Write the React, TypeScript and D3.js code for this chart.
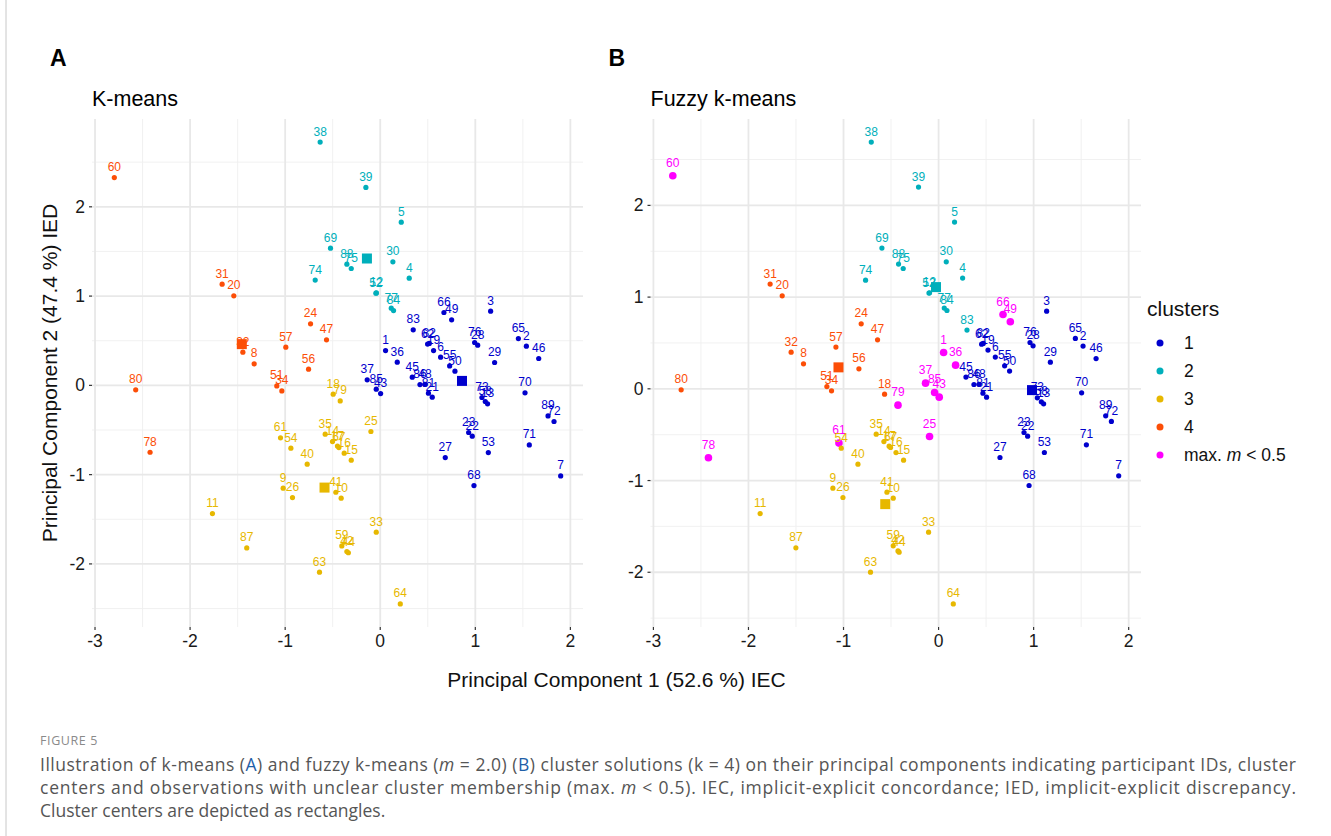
import React from "react";
import * as d3 from "d3";

// [participant id, PC1, PC2, cluster]  cluster 5 = max. m < 0.5
const kmeansPoints: [number, number, number, number][] = [
  [60, -2.797, 2.328, 4], [31, -1.663, 1.134, 4], [20, -1.54, 1.003, 4], [24, -0.733, 0.689, 4],
  [47, -0.565, 0.51, 4], [57, -0.993, 0.428, 4], [32, -1.445, 0.372, 4], [8, -1.326, 0.241, 4],
  [56, -0.754, 0.181, 4], [80, -2.572, -0.05, 4], [78, -2.421, -0.749, 4], [51, -1.088, -0.006, 4],
  [34, -1.035, -0.062, 4],
  [38, -0.632, 2.725, 2], [69, -0.523, 1.537, 2], [74, -0.684, 1.179, 2], [39, -0.151, 2.217, 2],
  [5, 0.221, 1.828, 2], [88, -0.351, 1.358, 2], [75, -0.305, 1.309, 2], [30, 0.133, 1.384, 2],
  [4, 0.305, 1.201, 2], [52, -0.046, 1.033, 2], [12, -0.04, 1.036, 2], [77, 0.116, 0.865, 2],
  [84, 0.14, 0.838, 2],
  [66, 0.67, 0.816, 1], [49, 0.751, 0.734, 1], [3, 1.161, 0.831, 1], [83, 0.347, 0.622, 1],
  [62, 0.498, 0.462, 1], [82, 0.516, 0.47, 1], [19, 0.561, 0.39, 1], [6, 0.635, 0.316, 1],
  [55, 0.73, 0.218, 1], [50, 0.786, 0.159, 1], [1, 0.056, 0.39, 1], [36, 0.179, 0.26, 1],
  [76, 0.993, 0.48, 1], [28, 1.025, 0.45, 1], [65, 1.453, 0.524, 1], [2, 1.537, 0.439, 1],
  [29, 1.203, 0.256, 1], [46, 1.667, 0.301, 1], [37, -0.137, 0.062, 1], [85, -0.042, -0.043, 1],
  [43, 0.004, -0.092, 1], [45, 0.337, 0.092, 1], [86, 0.418, 0.009, 1], [48, 0.47, 0.012, 1],
  [81, 0.507, -0.087, 1], [21, 0.547, -0.132, 1], [73, 1.07, -0.136, 1], [58, 1.105, -0.181, 1],
  [13, 1.129, -0.207, 1], [70, 1.523, -0.084, 1], [89, 1.765, -0.342, 1], [72, 1.828, -0.405, 1],
  [23, 0.93, -0.528, 1], [22, 0.968, -0.569, 1], [71, 1.568, -0.667, 1], [53, 1.137, -0.753, 1],
  [27, 0.684, -0.809, 1], [7, 1.898, -1.014, 1], [68, 0.986, -1.122, 1],
  [25, -0.098, -0.517, 3], [33, -0.042, -1.645, 3], [64, 0.211, -2.448, 3], [59, -0.404, -1.798, 3],
  [42, -0.351, -1.862, 3], [44, -0.335, -1.875, 3], [10, -0.411, -1.264, 3], [15, -0.305, -0.838, 3],
  [16, -0.379, -0.76, 3], [18, -0.495, -0.099, 3], [79, -0.421, -0.174, 3], [61, -1.049, -0.588, 3],
  [54, -0.94, -0.704, 3], [35, -0.579, -0.547, 3], [14, -0.502, -0.63, 3], [67, -0.435, -0.697, 3],
  [17, -0.45, -0.68, 3], [40, -0.768, -0.883, 3], [9, -1.021, -1.152, 3], [26, -0.923, -1.257, 3],
  [41, -0.467, -1.197, 3], [11, -1.765, -1.436, 3], [87, -1.404, -1.821, 3], [63, -0.639, -2.093, 3],
];
const kmeansCenters: [number, number, number][] = [
  [1, 0.86, 0.05], [2, -0.14, 1.421], [3, -0.586, -1.145], [4, -1.456, 0.462],
];

const fuzzyPoints: [number, number, number, number][] = [
  [60, -2.796, 2.323, 5], [78, -2.421, -0.752, 5], [66, 0.678, 0.81, 5], [49, 0.755, 0.731, 5],
  [1, 0.053, 0.396, 5], [36, 0.179, 0.258, 5], [37, -0.137, 0.062, 5], [85, -0.042, -0.04, 5],
  [43, 0.007, -0.091, 5], [79, -0.427, -0.178, 5], [25, -0.095, -0.52, 5], [61, -1.048, -0.592, 5],
  [31, -1.772, 1.142, 4], [20, -1.645, 1.014, 4], [24, -0.814, 0.709, 4], [47, -0.642, 0.534, 4],
  [57, -1.08, 0.455, 4], [32, -1.551, 0.4, 4], [8, -1.421, 0.273, 4], [56, -0.838, 0.218, 4],
  [80, -2.708, -0.011, 4], [51, -1.175, 0.025, 4], [34, -1.126, -0.022, 4], [18, -0.568, -0.058, 4],
  [38, -0.708, 2.69, 2], [69, -0.596, 1.534, 2], [74, -0.768, 1.185, 2], [39, -0.211, 2.2, 2],
  [5, 0.168, 1.818, 2], [88, -0.421, 1.36, 2], [75, -0.372, 1.312, 2], [30, 0.081, 1.385, 2],
  [4, 0.253, 1.207, 2], [52, -0.101, 1.044, 2], [12, -0.095, 1.047, 2], [77, 0.06, 0.88, 2],
  [84, 0.088, 0.854, 2], [83, 0.299, 0.64, 2],
  [3, 1.137, 0.847, 1], [62, 0.453, 0.487, 1], [82, 0.47, 0.495, 1], [19, 0.52, 0.422, 1],
  [6, 0.597, 0.346, 1], [55, 0.695, 0.251, 1], [50, 0.747, 0.193, 1], [76, 0.962, 0.505, 1],
  [28, 0.994, 0.469, 1], [29, 1.176, 0.291, 1], [65, 1.439, 0.549, 1], [2, 1.52, 0.466, 1],
  [46, 1.657, 0.33, 1], [45, 0.288, 0.128, 1], [86, 0.372, 0.047, 1], [48, 0.425, 0.05, 1],
  [81, 0.467, -0.047, 1], [21, 0.505, -0.091, 1], [73, 1.039, -0.098, 1], [58, 1.081, -0.142, 1],
  [13, 1.105, -0.164, 1], [70, 1.505, -0.044, 1], [89, 1.758, -0.294, 1], [72, 1.818, -0.356, 1],
  [23, 0.899, -0.476, 1], [22, 0.937, -0.516, 1], [71, 1.555, -0.611, 1], [53, 1.113, -0.694, 1],
  [27, 0.646, -0.749, 1], [7, 1.895, -0.949, 1], [68, 0.952, -1.054, 1],
  [54, -1.024, -0.647, 3], [35, -0.656, -0.494, 3], [14, -0.575, -0.575, 3], [67, -0.505, -0.64, 3],
  [17, -0.52, -0.625, 3], [16, -0.448, -0.695, 3], [15, -0.368, -0.778, 3], [40, -0.848, -0.821, 3],
  [9, -1.112, -1.083, 3], [26, -1.006, -1.185, 3], [41, -0.543, -1.127, 3], [10, -0.477, -1.192, 3],
  [11, -1.877, -1.36, 3], [87, -1.501, -1.734, 3], [63, -0.716, -1.999, 3], [59, -0.477, -1.712, 3],
  [42, -0.427, -1.767, 3], [44, -0.415, -1.781, 3], [33, -0.105, -1.563, 3], [64, 0.155, -2.345, 3],
];
const fuzzyCenters: [number, number, number][] = [
  [1, 0.983, -0.014], [2, -0.027, 1.109], [3, -0.561, -1.257], [4, -1.053, 0.234],
];

const clusterColors = ["#0000CD", "#00AFBB", "#E7B800", "#FC4E07", "#FF00FF"];
const legendLabels = ["1", "2", "3", "4", "max. m < 0.5"];
const xTicks = [-3, -2, -1, 0, 1, 2];
const yTicks = [-2, -1, 0, 1, 2];

const FONT = "'Liberation Sans', Arial, Helvetica, sans-serif";
const CAPTION_FONT = "'Open Sans', 'Noto Sans', sans-serif";
const TOP = 119;
const BOTTOM = 627;

type PanelProps = {
  points: [number, number, number, number][];
  centers: [number, number, number][];
  left: number;
  right: number;
  title: string;
  letter: string;
};

const Panel = ({ points, centers, left, right, title, letter }: PanelProps) => {
  const xs = [...points.map(d => d[1]), ...centers.map(d => d[1])];
  const ys = [...points.map(d => d[2]), ...centers.map(d => d[2])];
  const [x0, x1] = d3.extent(xs) as [number, number];
  const [y0, y1] = d3.extent(ys) as [number, number];
  const ex = (x1 - x0) * 0.05;
  const ey = (y1 - y0) * 0.05;
  const x = d3.scaleLinear().domain([x0 - ex, x1 + ex]).range([left, right]);
  const y = d3.scaleLinear().domain([y0 - ey, y1 + ey]).range([BOTTOM, TOP]);
  const [dx0, dx1] = x.domain();
  const [dy0, dy1] = y.domain();
  const minorX = d3.range(-3.5, 3, 1).filter(v => v >= dx0 && v <= dx1);
  const minorY = d3.range(-3.5, 3.5, 1).filter(v => v >= dy0 && v <= dy1);

  return (
    <g>
      <text x={left - 42} y={66} fontSize={23} fontWeight="bold" fontFamily={FONT}>{letter}</text>
      <text x={left} y={106} fontSize={21.5} fontFamily={FONT}>{title}</text>
      {minorX.map(v => (
        <line key={"mx" + v} x1={x(v)} x2={x(v)} y1={TOP} y2={BOTTOM} stroke="#efefef" strokeWidth={0.9} />
      ))}
      {minorY.map(v => (
        <line key={"my" + v} x1={left} x2={right} y1={y(v)} y2={y(v)} stroke="#efefef" strokeWidth={0.9} />
      ))}
      {xTicks.map(v => (
        <line key={"gx" + v} x1={x(v)} x2={x(v)} y1={TOP} y2={BOTTOM} stroke="#e8e8e8" strokeWidth={1.8} />
      ))}
      {yTicks.map(v => (
        <line key={"gy" + v} x1={left} x2={right} y1={y(v)} y2={y(v)} stroke="#e8e8e8" strokeWidth={1.8} />
      ))}
      {xTicks.map(v => (
        <g key={"tx" + v}>
          <line x1={x(v)} x2={x(v)} y1={BOTTOM} y2={BOTTOM + 3} stroke="#333" strokeWidth={1.2} />
          <text x={x(v)} y={BOTTOM + 20} textAnchor="middle" fontSize={17.5} fontFamily={FONT} fill="#1a1a1a">
            {v}
          </text>
        </g>
      ))}
      {yTicks.map(v => (
        <g key={"ty" + v}>
          <line x1={left - 3} x2={left} y1={y(v)} y2={y(v)} stroke="#333" strokeWidth={1.2} />
          <text x={left - 7} y={y(v) + 6} textAnchor="end" fontSize={17.5} fontFamily={FONT} fill="#1a1a1a">
            {v}
          </text>
        </g>
      ))}
      {points.map(d => (
        <circle key={"p" + d[0]} cx={x(d[1])} cy={y(d[2])} r={d[3] === 5 ? 3.8 : 2.6} fill={clusterColors[d[3] - 1]} />
      ))}
      {points.map(d => (
        <text
          key={"l" + d[0]}
          x={x(d[1])}
          y={y(d[2]) - (d[3] === 5 ? 9 : 6.5)}
          textAnchor="middle"
          fontSize={12}
          fontFamily={FONT}
          fill={clusterColors[d[3] - 1]}
        >
          {d[0]}
        </text>
      ))}
      {centers.map(d => (
        <rect key={"c" + d[0]} x={x(d[1]) - 5} y={y(d[2]) - 5} width={10} height={10} fill={clusterColors[d[0] - 1]} />
      ))}
    </g>
  );
};

export default function App() {
  return (
    <svg width={1331} height={836} style={{ position: "absolute", left: 0, top: 0, background: "#fff" }}>
      <line x1={6} x2={6} y1={0} y2={836} stroke="#c8c8c8" strokeWidth={1} />
      <Panel points={kmeansPoints} centers={kmeansCenters} left={92} right={583} title="K-means" letter="A" />
      <Panel points={fuzzyPoints} centers={fuzzyCenters} left={650.5} right={1141} title="Fuzzy k-means" letter="B" />

      <text x={616.5} y={687} textAnchor="middle" fontSize={21} fontFamily={FONT} fill="#111">
        Principal Component 1 (52.6 %) IEC
      </text>
      <text transform="translate(57,373) rotate(-90)" textAnchor="middle" fontSize={21} fontFamily={FONT} fill="#111">
        Principal Component 2 (47.4 %) IED
      </text>

      <text x={1147} y={316} fontSize={21} fontFamily={FONT} fill="#111">clusters</text>
      {legendLabels.map((lab, i) => (
        <g key={"lg" + i}>
          <circle cx={1160} cy={343 + i * 28} r={3.5} fill={clusterColors[i]} />
          {i < 4 ? (
            <text x={1184} y={349 + i * 28} fontSize={17.5} fontFamily={FONT} fill="#111">{lab}</text>
          ) : (
            <text x={1184} y={349 + i * 28} fontSize={17.5} fontFamily={FONT} fill="#111">
              max. <tspan fontStyle="italic">m</tspan> &lt; 0.5
            </text>
          )}
        </g>
      ))}

      <text x={40} y={745} fontSize={12.5} letterSpacing={0.6} fontFamily={CAPTION_FONT} fill="#8a8a8a">
        FIGURE 5
      </text>
      <g fontSize={17.5} fontFamily={CAPTION_FONT} fill="#555">
        <text x={40} y={771} textLength={1256} lengthAdjust="spacing">
          Illustration of k-means (<tspan fill="#1f5fa8">A</tspan>) and fuzzy k-means (<tspan fontStyle="italic">m</tspan> = 2.0) (<tspan fill="#1f5fa8">B</tspan>) cluster solutions (k = 4) on their principal components indicating participant IDs, cluster
        </text>
        <text x={40} y={794} textLength={1256} lengthAdjust="spacing">
          centers and observations with unclear cluster membership (max. <tspan fontStyle="italic">m</tspan> &lt; 0.5). IEC, implicit-explicit concordance; IED, implicit-explicit discrepancy.
        </text>
        <text x={40} y={817}>Cluster centers are depicted as rectangles.</text>
      </g>
    </svg>
  );
}
